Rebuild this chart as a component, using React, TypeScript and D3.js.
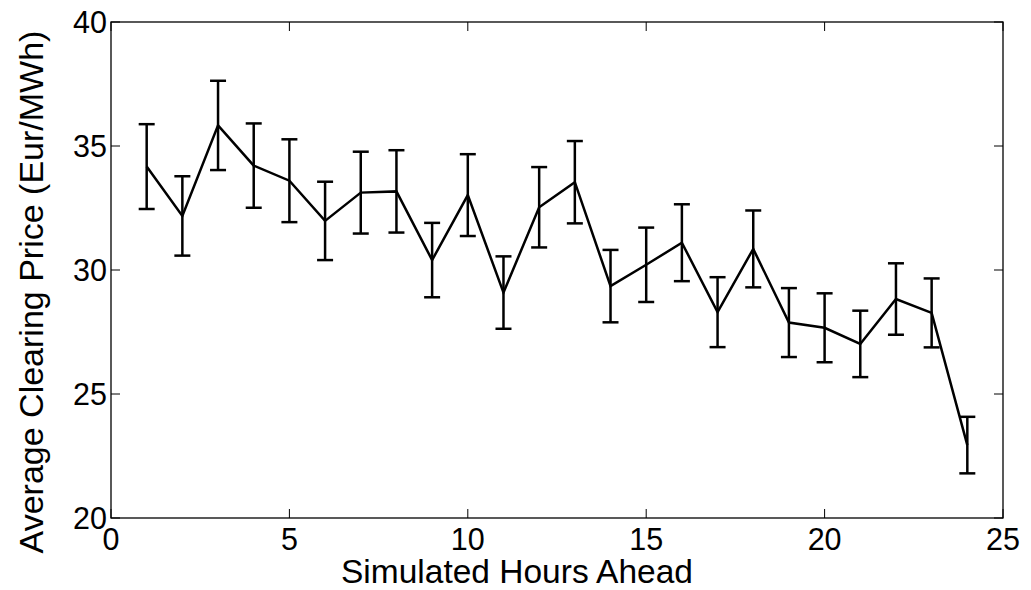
import React from "react";
import * as d3 from "d3";

const hours = [1, 2, 3, 4, 5, 6, 7, 8, 9, 10, 11, 12, 13, 14, 15, 16, 17, 18, 19, 20, 21, 22, 23, 24];
const meanPrice = [34.17, 32.18, 35.83, 34.21, 33.6, 31.98, 33.12, 33.17, 30.4, 33.02, 29.09, 32.53, 33.54, 29.35, 30.21, 31.1, 28.3, 30.85, 27.88, 27.67, 27.02, 28.83, 28.27, 22.94];
const errPrice = [1.71, 1.6, 1.8, 1.7, 1.67, 1.58, 1.65, 1.66, 1.5, 1.65, 1.46, 1.62, 1.66, 1.46, 1.5, 1.55, 1.41, 1.55, 1.39, 1.39, 1.34, 1.44, 1.39, 1.14];
const xTicks = [0, 5, 10, 15, 20, 25];
const yTicks = [20, 25, 30, 35, 40];

const W = 1031;
const H = 590;
const L = 111, R = 1003, T = 22, B = 518;
const FONT = "Liberation Sans, Arial, Helvetica, sans-serif";

export default function App() {
  const x = d3.scaleLinear().domain([0, 25]).range([L, R]);
  const y = d3.scaleLinear().domain([20, 40]).range([B, T]);
  const line = d3
    .line<number>()
    .x((_, i) => x(hours[i]))
    .y((d) => y(d));
  const cap = 8;
  const tickLen = 9;

  return (
    <svg
      width={W}
      height={H}
      style={{ position: "absolute", left: 0, top: 0, background: "#fff" }}
      fontFamily={FONT}
    >
      <rect x={0} y={0} width={W} height={H} fill="#fff" />
      <rect x={L} y={T} width={R - L} height={B - T} fill="none" stroke="#000" strokeWidth={1.3} />
      {xTicks.map((t) => (
        <g key={"x" + t}>
          <line x1={x(t)} x2={x(t)} y1={B} y2={B - tickLen} stroke="#000" strokeWidth={1} />
          <line x1={x(t)} x2={x(t)} y1={T} y2={T + tickLen} stroke="#000" strokeWidth={1} />
          <text x={x(t)} y={550} textAnchor="middle" fontSize={30.5} fill="#000">
            {t}
          </text>
        </g>
      ))}
      {yTicks.map((t) => (
        <g key={"y" + t}>
          <line x1={L} x2={L + tickLen} y1={y(t)} y2={y(t)} stroke="#000" strokeWidth={1} />
          <line x1={R} x2={R - tickLen} y1={y(t)} y2={y(t)} stroke="#000" strokeWidth={1} />
          <text x={107} y={y(t)} dy="0.36em" textAnchor="end" fontSize={30.5} fill="#000">
            {t}
          </text>
        </g>
      ))}
      {hours.map((h, i) => {
        const cx = x(h);
        const yt = y(meanPrice[i] + errPrice[i]);
        const yb = y(meanPrice[i] - errPrice[i]);
        return (
          <g key={"e" + h} stroke="#000" strokeWidth={2.5}>
            <line x1={cx} x2={cx} y1={yt} y2={yb} />
            <line x1={cx - cap} x2={cx + cap} y1={yt} y2={yt} />
            <line x1={cx - cap} x2={cx + cap} y1={yb} y2={yb} />
          </g>
        );
      })}
      <path d={line(meanPrice) || ""} fill="none" stroke="#000" strokeWidth={2.5} />
      <text x={517} y={583} textAnchor="middle" fontSize={33.5} fill="#000">
        Simulated Hours Ahead
      </text>
      <text
        transform={`translate(43,292) rotate(-90)`}
        textAnchor="middle"
        fontSize={34}
        fill="#000"
      >
        Average Clearing Price (Eur/MWh)
      </text>
    </svg>
  );
}
